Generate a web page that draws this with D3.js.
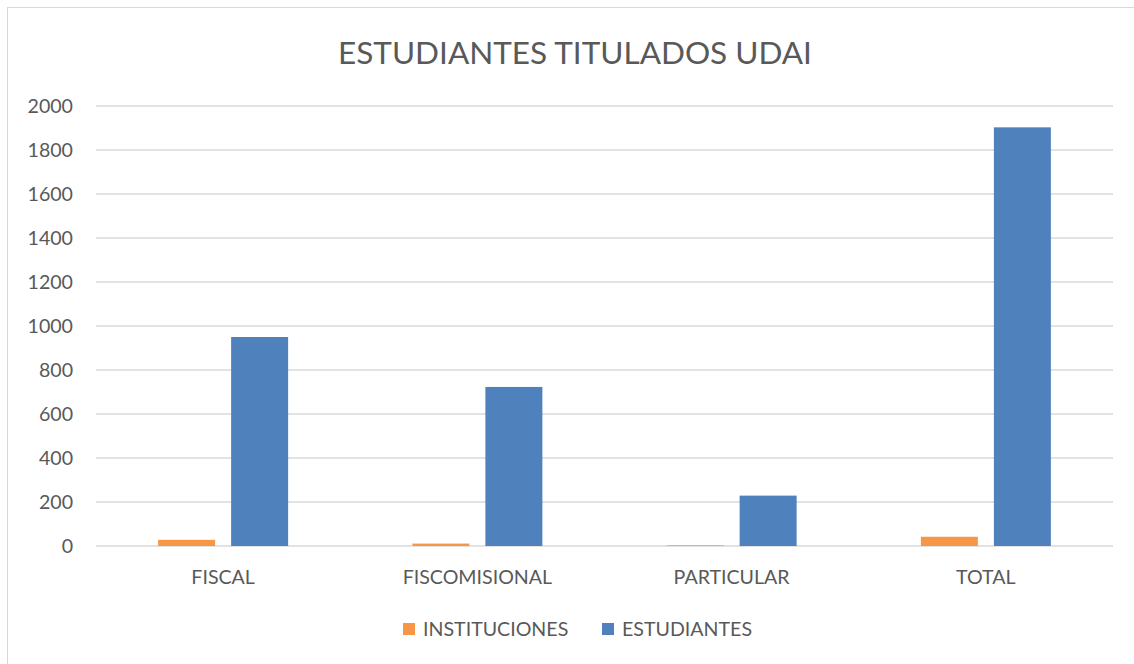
<!DOCTYPE html>
<html>
<head>
<meta charset="utf-8">
<script src="https://cdn.jsdelivr.net/npm/d3@7"></script>
<style>
	body { margin: 0; background: #fff; }
	text { font-family: Lato, "Open Sans", sans-serif; fill: #595959; }
</style>
</head>
<body>
<div id="graphic"></div>
<script>
// categories and series
var categories = ['FISCAL', 'FISCOMISIONAL', 'PARTICULAR', 'TOTAL'];
var seriesNames = ['INSTITUCIONES', 'ESTUDIANTES'];
var instituciones = [28, 11, 3, 42];
var estudiantes = [950, 723, 229, 1903];
var yTicks = [0, 200, 400, 600, 800, 1000, 1200, 1400, 1600, 1800, 2000];
var colors = ['#f79646', '#4f81bd'];

var width = 1134, height = 664;
var margins = { top: 106, right: 21, bottom: 118, left: 96 };
var chartWidth = width - margins.left - margins.right;
var chartHeight = height - margins.top - margins.bottom;
var labelSize = '19.6px';

var svg = d3.select('#graphic').append('svg')
	.attr('width', width)
	.attr('height', height);

// chart frame
svg.append('rect')
	.attr('x', 7.5).attr('y', 7.5)
	.attr('width', width + 20).attr('height', height + 20)
	.attr('fill', 'none')
	.attr('stroke', '#d9d9d9')
	.attr('stroke-width', 1);

svg.append('text')
	.attr('x', 575).attr('y', 64)
	.attr('text-anchor', 'middle')
	.style('font-size', '31.5px')
	.text('ESTUDIANTES TITULADOS UDAI');

var chart = svg.append('g')
	.attr('transform', 'translate(' + margins.left + ',' + margins.top + ')');

var x = d3.scaleBand().domain(categories).range([0, chartWidth]);
var y = d3.scaleLinear().domain([0, 2000]).range([chartHeight, 0]);

var barW = 57, gap = 16;
var x1 = d3.scaleOrdinal().domain(seriesNames)
	.range([x.bandwidth() / 2 - gap / 2 - barW, x.bandwidth() / 2 + gap / 2]);

// gridlines + y labels
var ticks = chart.append('g').attr('class', 'axis axis-y')
	.selectAll('g.tick')
	.data(yTicks)
	.enter().append('g')
	.attr('class', 'tick')
	.attr('transform', function(d) { return 'translate(0,' + y(d) + ')'; });

ticks.append('line')
	.attr('x2', chartWidth)
	.attr('stroke', '#d9d9d9')
	.attr('stroke-width', 1.3);

ticks.append('text')
	.attr('x', -23)
	.attr('dy', '0.35em')
	.attr('text-anchor', 'end')
	.style('font-size', labelSize)
	.text(function(d) { return d; });

// bars
var rows = categories.map(function(c, i) {
	return { cat: c, values: [instituciones[i], estudiantes[i]] };
});

var groups = chart.selectAll('g.cat')
	.data(rows).enter()
	.append('g')
	.attr('class', 'cat')
	.attr('transform', function(d) { return 'translate(' + x(d.cat) + ',0)'; });

groups.selectAll('rect')
	.data(function(d) { return d.values.map(function(v, i) { return { s: seriesNames[i], v: v, i: i }; }); })
	.enter().append('rect')
	.attr('x', function(d) { return x1(d.s); })
	.attr('width', barW)
	.attr('y', function(d) { return y(d.v); })
	.attr('height', function(d) { return chartHeight - y(d.v); })
	.attr('fill', function(d) { return colors[d.i]; });

// x labels
chart.append('g').selectAll('text')
	.data(categories).enter()
	.append('text')
	.attr('x', function(d) { return x(d) + x.bandwidth() / 2; })
	.attr('y', chartHeight + 31)
	.attr('dy', '0.35em')
	.attr('text-anchor', 'middle')
	.style('font-size', labelSize)
	.text(function(d) { return d; });

// legend
var legendX = [403, 602];
var legend = svg.append('g').selectAll('g')
	.data(seriesNames).enter()
	.append('g')
	.attr('transform', function(d, i) { return 'translate(' + legendX[i] + ',623)'; });

legend.append('rect')
	.attr('width', 12).attr('height', 12)
	.attr('fill', function(d, i) { return colors[i]; });

legend.append('text')
	.attr('x', 20).attr('y', 6)
	.attr('dy', '0.35em')
	.style('font-size', labelSize)
	.text(function(d) { return d; });
</script>
</body>
</html>
